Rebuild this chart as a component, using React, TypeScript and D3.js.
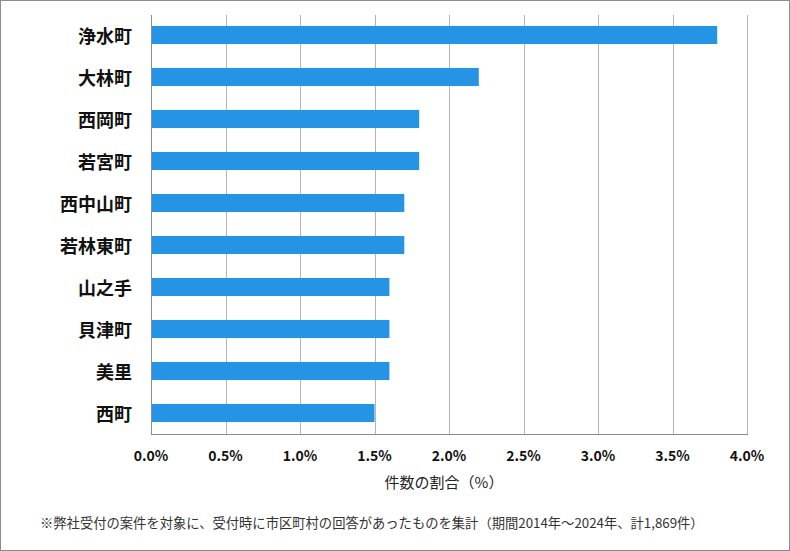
import React from "react";
import * as d3 from "d3";

const categories = ["浄水町", "大林町", "西岡町", "若宮町", "西中山町", "若林東町", "山之手", "貝津町", "美里", "西町"];
const values = [3.8, 2.2, 1.8, 1.8, 1.7, 1.7, 1.6, 1.6, 1.6, 1.5];
const xTicks = [0, 0.5, 1, 1.5, 2, 2.5, 3, 3.5, 4];
const axisTitle = "件数の割合（%）";
const footnote = "※弊社受付の案件を対象に、受付時に市区町村の回答があったものを集計（期間2014年～2024年、計1,869件）";

const W = 790, H = 551;
const left = 151, right = 747, top = 14, bottom = 434;

export default function App() {
  const x = d3.scaleLinear().domain([0, 4]).range([left, right]);
  const y = d3.scaleBand<string>().domain(categories).range([top, bottom]).paddingInner(0.57).paddingOuter(0.285);
  const font = "'Noto Sans CJK JP', sans-serif";
  return (
    <svg width={W} height={H} style={{ position: "absolute", left: 0, top: 0 }}>
      <rect x={0} y={0} width={W} height={H} fill="#fff" />
      <rect x={0.5} y={0.5} width={W - 1} height={H - 1} fill="none" stroke="#8c8c8c" strokeWidth={1} />
      {xTicks.map((t) => (
        <line key={"g" + t} x1={Math.round(x(t)) + 0.5} x2={Math.round(x(t)) + 0.5} y1={top + 1} y2={bottom} stroke="#b4b4b4" strokeWidth={1} />
      ))}
      {categories.map((c, i) => (
        <rect key={c} x={x(0)} y={y(c)} width={x(values[i]) - x(0)} height={y.bandwidth()} fill="#2594e4" />
      ))}
      <line x1={left + 0.5} x2={left + 0.5} y1={top + 1} y2={bottom + 0.5} stroke="#8c8c8c" />
      <line x1={left} x2={right + 1} y1={bottom + 0.5} y2={bottom + 0.5} stroke="#8c8c8c" />
      {categories.map((c) => (
        <text key={"l" + c} x={132} y={(y(c) as number) + y.bandwidth() / 2} textAnchor="end" dominantBaseline="central" fontFamily={font} fontWeight="bold" fontSize={18} fill="#111">{c}</text>
      ))}
      {xTicks.map((t) => (
        <text key={"t" + t} x={x(t)} y={455} textAnchor="middle" dominantBaseline="central" fontFamily={font} fontWeight="bold" fontSize={14} fill="#111">{t.toFixed(1) + "%"}</text>
      ))}
      <text x={(left + right) / 2 - 5} y={481} textAnchor="middle" dominantBaseline="central" fontFamily={font} fontSize={15} fill="#222">{axisTitle}</text>
      <text x={40} y={522} dominantBaseline="central" fontFamily={font} fontSize={13.3} fill="#333">{footnote}</text>
    </svg>
  );
}
